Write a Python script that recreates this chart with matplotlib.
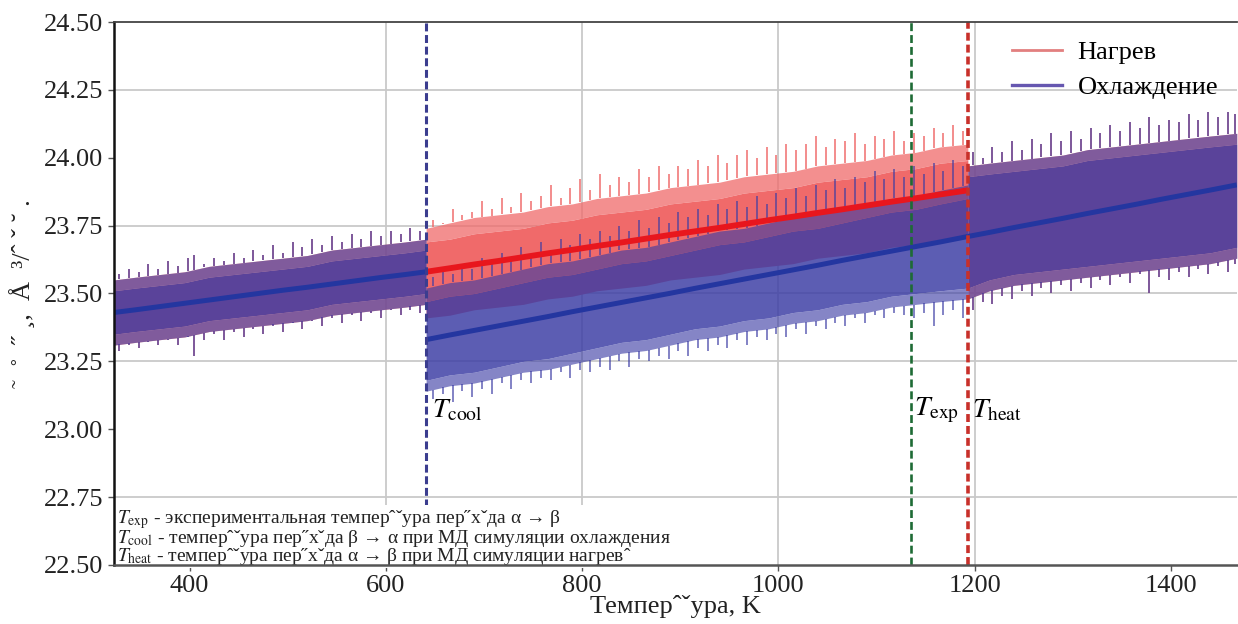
import numpy as np
import matplotlib.pyplot as plt
from matplotlib.lines import Line2D

plt.rcParams['font.family'] = ['Liberation Serif', 'DejaVu Serif']
plt.rcParams['mathtext.fontset'] = 'stix'

# transition temperatures, K
T_COOL, T_EXP, T_HEAT = 641, 1135, 1193

# below T_cool heating and cooling runs coincide
t_low = [323, 345, 370, 395, 420, 445, 470, 495, 520, 545, 570, 595, 620, 641]
mean_low = [23.430, 23.440, 23.452, 23.464, 23.476, 23.488, 23.500, 23.512, 23.523, 23.535, 23.547, 23.559, 23.570, 23.580]
up_low = [23.51, 23.52, 23.53, 23.54, 23.56, 23.57, 23.58, 23.59, 23.60, 23.62, 23.63, 23.64, 23.65, 23.66]
lo_low = [23.35, 23.36, 23.37, 23.38, 23.40, 23.41, 23.42, 23.43, 23.44, 23.46, 23.47, 23.48, 23.49, 23.50]
up_low_out = [23.55, 23.56, 23.57, 23.58, 23.60, 23.61, 23.62, 23.63, 23.64, 23.66, 23.67, 23.68, 23.69, 23.70]
lo_low_out = [23.31, 23.32, 23.33, 23.34, 23.36, 23.37, 23.38, 23.39, 23.40, 23.42, 23.43, 23.44, 23.45, 23.46]
t_spk_low = [328, 338, 348, 358, 368, 378, 388, 398, 405, 415, 425, 435, 445, 455, 465, 475, 485, 495, 505, 515,
             525, 535, 545, 555, 565, 575, 585, 595, 605, 615, 625, 635]
spk_up_low = [23.57, 23.59, 23.58, 23.61, 23.59, 23.62, 23.60, 23.63, 23.64, 23.61, 23.63, 23.62, 23.65, 23.63,
              23.66, 23.64, 23.68, 23.65, 23.69, 23.67, 23.70, 23.68, 23.71, 23.69, 23.72, 23.70, 23.73, 23.71,
              23.73, 23.72, 23.74, 23.73]
spk_lo_low = [23.29, 23.31, 23.30, 23.32, 23.31, 23.33, 23.31, 23.34, 23.27, 23.33, 23.35, 23.33, 23.36, 23.34,
              23.37, 23.35, 23.38, 23.36, 23.39, 23.37, 23.40, 23.38, 23.41, 23.39, 23.42, 23.40, 23.43, 23.41,
              23.44, 23.42, 23.44, 23.43]

# between T_cool and T_heat the runs split
t_mid = [641, 665, 690, 715, 740, 765, 790, 815, 840, 865, 890, 915, 940, 965, 990, 1015, 1040, 1065, 1090, 1115,
         1140, 1165, 1193]
heat_mean = [23.580, 23.593, 23.607, 23.620, 23.634, 23.648, 23.661, 23.675, 23.688, 23.702, 23.716, 23.729, 23.742,
             23.756, 23.770, 23.783, 23.797, 23.810, 23.824, 23.838, 23.851, 23.865, 23.880]
heat_up = [23.69, 23.70, 23.72, 23.73, 23.74, 23.76, 23.77, 23.79, 23.80, 23.81, 23.83, 23.84, 23.85, 23.87, 23.88,
           23.89, 23.91, 23.92, 23.93, 23.95, 23.96, 23.98, 23.99]
heat_lo = [23.41, 23.42, 23.44, 23.45, 23.46, 23.48, 23.49, 23.51, 23.52, 23.53, 23.55, 23.56, 23.57, 23.59, 23.60,
           23.61, 23.63, 23.64, 23.65, 23.67, 23.68, 23.70, 23.71]
heat_up_out = [23.74, 23.76, 23.78, 23.79, 23.80, 23.82, 23.83, 23.85, 23.86, 23.87, 23.89, 23.90, 23.91, 23.93,
               23.94, 23.95, 23.97, 23.98, 23.99, 24.01, 24.02, 24.04, 24.05]

cool_mean = [23.330, 23.347, 23.364, 23.381, 23.398, 23.415, 23.433, 23.450, 23.467, 23.484, 23.501, 23.519, 23.536,
             23.553, 23.570, 23.587, 23.604, 23.622, 23.639, 23.656, 23.673, 23.690, 23.710]
cool_up = [23.47, 23.49, 23.50, 23.52, 23.54, 23.56, 23.57, 23.59, 23.61, 23.62, 23.64, 23.66, 23.68, 23.69, 23.71,
           23.73, 23.74, 23.76, 23.78, 23.80, 23.81, 23.83, 23.85]
cool_lo = [23.18, 23.20, 23.21, 23.23, 23.25, 23.26, 23.28, 23.30, 23.32, 23.33, 23.35, 23.37, 23.38, 23.40, 23.41,
           23.43, 23.44, 23.46, 23.47, 23.49, 23.50, 23.51, 23.52]
cool_up_out = [23.52, 23.54, 23.55, 23.57, 23.59, 23.61, 23.62, 23.64, 23.66, 23.67, 23.69, 23.71, 23.73, 23.74,
               23.76, 23.78, 23.79, 23.81, 23.83, 23.85, 23.86, 23.88, 23.90]
cool_lo_out = [23.14, 23.16, 23.17, 23.19, 23.21, 23.22, 23.24, 23.26, 23.28, 23.29, 23.31, 23.33, 23.34, 23.36,
               23.37, 23.39, 23.40, 23.42, 23.43, 23.45, 23.46, 23.47, 23.48]

t_spk_mid = [648, 658, 668, 678, 688, 698, 708, 718, 728, 738, 748, 758, 768, 778, 788, 798, 808, 818, 828, 838,
             848, 858, 868, 878, 888, 898, 908, 918, 928, 938, 948, 958, 968, 978, 988, 998, 1008, 1018, 1028,
             1038, 1048, 1058, 1068, 1078, 1088, 1098, 1108, 1118, 1128, 1138, 1148, 1158, 1168, 1178, 1188]
spk_heat_up = [23.77, 23.76, 23.81, 23.79, 23.80, 23.84, 23.81, 23.85, 23.82, 23.87, 23.84, 23.86, 23.90, 23.85,
               23.89, 23.92, 23.88, 23.94, 23.90, 23.93, 23.91, 23.96, 23.93, 23.97, 23.94, 23.97, 23.96, 23.99,
               23.97, 24.01, 23.98, 24.01, 24.03, 24.00, 24.04, 24.01, 24.05, 24.03, 24.05, 24.08, 24.04, 24.07,
               24.06, 24.09, 24.05, 24.08, 24.07, 24.10, 24.06, 24.09, 24.08, 24.11, 24.09, 24.12, 24.10]
spk_cool_up = [23.56, 23.58, 23.57, 23.61, 23.59, 23.63, 23.61, 23.65, 23.63, 23.67, 23.64, 23.69, 23.66, 23.70,
               23.68, 23.72, 23.70, 23.73, 23.71, 23.75, 23.73, 23.77, 23.74, 23.78, 23.76, 23.80, 23.78, 23.81,
               23.79, 23.83, 23.81, 23.84, 23.82, 23.86, 23.83, 23.87, 23.85, 23.89, 23.86, 23.90, 23.88, 23.92,
               23.89, 23.93, 23.91, 23.95, 23.92, 23.96, 23.93, 23.97, 23.94, 23.98, 23.95, 23.99, 23.97]
spk_cool_lo = [23.11, 23.13, 23.10, 23.14, 23.12, 23.15, 23.13, 23.17, 23.15, 23.18, 23.17, 23.19, 23.18, 23.21,
               23.19, 23.22, 23.21, 23.23, 23.22, 23.25, 23.23, 23.26, 23.25, 23.27, 23.26, 23.29, 23.27, 23.30,
               23.29, 23.31, 23.30, 23.33, 23.31, 23.34, 23.33, 23.35, 23.34, 23.37, 23.35, 23.38, 23.37, 23.39,
               23.38, 23.41, 23.39, 23.42, 23.41, 23.43, 23.42, 23.41, 23.43, 23.38, 23.42, 23.44, 23.41]

# above T_heat the runs coincide again
t_high = [1193, 1215, 1240, 1265, 1290, 1315, 1340, 1365, 1390, 1415, 1440, 1467]
mean_high = [23.710, 23.725, 23.743, 23.760, 23.777, 23.795, 23.812, 23.829, 23.847, 23.864, 23.881, 23.900]
up_high = [23.93, 23.94, 23.95, 23.96, 23.97, 23.99, 24.00, 24.01, 24.02, 24.03, 24.04, 24.05]
lo_high = [23.52, 23.55, 23.57, 23.58, 23.59, 23.60, 23.61, 23.62, 23.63, 23.64, 23.65, 23.67]
up_high_out = [23.97, 23.98, 23.99, 24.00, 24.01, 24.03, 24.04, 24.05, 24.06, 24.07, 24.08, 24.09]
lo_high_out = [23.48, 23.51, 23.53, 23.54, 23.55, 23.56, 23.57, 23.58, 23.59, 23.60, 23.61, 23.63]
t_spk_high = [1198, 1208, 1218, 1228, 1238, 1248, 1258, 1268, 1278, 1288, 1298, 1308, 1318, 1328, 1338, 1348,
              1358, 1368, 1378, 1388, 1398, 1408, 1418, 1428, 1438, 1448, 1458, 1465]
spk_up_high = [24.02, 24.00, 24.04, 24.02, 24.06, 24.03, 24.07, 24.05, 24.09, 24.06, 24.10, 24.07, 24.11, 24.09,
               24.12, 24.10, 24.13, 24.11, 24.15, 24.12, 24.14, 24.13, 24.16, 24.14, 24.17, 24.15, 24.17, 24.16]
spk_lo_high = [23.44, 23.47, 23.46, 23.49, 23.48, 23.51, 23.49, 23.52, 23.50, 23.53, 23.51, 23.54, 23.52, 23.55,
               23.53, 23.56, 23.54, 23.57, 23.50, 23.56, 23.55, 23.58, 23.56, 23.59, 23.57, 23.60, 23.58, 23.61]

HEAT_BAND, HEAT_LINE = '#f06a6a', '#e8161d'
COOL_BAND, COOL_LINE = '#3b3ca4', '#2436a0'
COOL_ALPHA = 0.83

fig = plt.figure(figsize=(12.38, 6.24), dpi=100)
ax = fig.add_axes([0.0921, 0.0946, 0.9069, 0.8701])


def band(t, lo, up, fringes, spikes, color, alpha, z):
    # solid core, lighter fringe, then single spikes out of the fringe
    ax.fill_between(t, lo, up, color=color, alpha=alpha, lw=0, zorder=z)
    for a, b in fringes:
        ax.fill_between(t, a, b, color=color, alpha=alpha * 0.75, lw=0, zorder=z)
    for st, edge, sv in spikes:
        ax.vlines(st, np.interp(st, t, edge), sv, color=color, alpha=alpha * 0.9, lw=1.2, zorder=z)


for color, alpha, z in [(HEAT_BAND, 1.0, 2), (COOL_BAND, COOL_ALPHA, 3)]:
    band(t_low, lo_low, up_low, [(up_low, up_low_out), (lo_low_out, lo_low)],
         [(t_spk_low, up_low_out, spk_up_low), (t_spk_low, lo_low_out, spk_lo_low)], color, alpha, z)
    band(t_high, lo_high, up_high, [(up_high, up_high_out), (lo_high_out, lo_high)],
         [(t_spk_high, up_high_out, spk_up_high), (t_spk_high, lo_high_out, spk_lo_high)], color, alpha, z)

band(t_mid, heat_lo, heat_up, [(heat_up, heat_up_out)], [(t_spk_mid, heat_up_out, spk_heat_up)], HEAT_BAND, 1.0, 2)
band(t_mid, cool_lo, cool_up, [(cool_up, cool_up_out), (cool_lo_out, cool_lo)],
     [(t_spk_mid, cool_up_out, spk_cool_up), (t_spk_mid, cool_lo_out, spk_cool_lo)], COOL_BAND, COOL_ALPHA, 3)

ax.plot(t_mid, heat_mean, color=HEAT_LINE, lw=4.2, zorder=4, solid_capstyle='butt')
for t, m in [(t_low, mean_low), (t_mid, cool_mean), (t_high, mean_high)]:
    ax.plot(t, m, color=COOL_LINE, lw=3.6, zorder=5, solid_capstyle='butt')

ax.axvline(T_COOL, color='#3b3d8f', lw=2.2, dashes=(2.6, 1.2), zorder=6)
ax.axvline(T_EXP, color='#1e6b35', lw=1.9, dashes=(3.0, 1.5), zorder=6)
ax.axvline(T_HEAT, color='#c8302a', lw=2.6, dashes=(2.2, 1.1), zorder=6)

ax.text(T_COOL + 6, 23.07, r'$T_{\mathrm{cool}}$', fontsize=20, va='center', ha='left', zorder=7)
ax.text(T_EXP + 3, 23.07, r'$T_{\mathrm{exp}}$', fontsize=20, va='center', ha='left', zorder=7)
ax.text(T_HEAT + 4, 23.07, r'$T_{\mathrm{heat}}$', fontsize=20, va='center', ha='left', zorder=7)

# grid drawn by hand: the original only has some of the lines
for v in [24.25, 23.75, 23.50, 23.25, 22.75]:
    ax.axhline(v, color='#c9c9c9', lw=1.3, zorder=0)
for t in [600, 800, 1000, 1200]:
    ax.axvline(t, color='#c9c9c9', lw=1.3, zorder=0)

note = ("$T_{\\mathrm{exp}}$ - экспериментальная темпер\u02c6\u02c7ура пер\u02ddх\u02c7да α → β\n"
        "$T_{\\mathrm{cool}}$ - темпер\u02c6\u02c7ура пер\u02ddх\u02c7да β → α при МД симуляции охлаждения\n"
        "$T_{\\mathrm{heat}}$ - темпер\u02c6\u02c7ура пер\u02ddх\u02c7да α → β при МД симуляции нагрев\u02c6")
ax.text(0.003, -0.003, note, transform=ax.transAxes, fontsize=14, va='bottom', ha='left', linespacing=0.8,
        color='#222222', zorder=8, bbox=dict(fc='white', ec='none', pad=0.8))

ax.set_xlim(323, 1467)
ax.set_ylim(22.5, 24.5)
ax.set_xticks([400, 600, 800, 1000, 1200, 1400])
ax.set_yticks([22.5, 22.75, 23.0, 23.25, 23.5, 23.75, 24.0, 24.25, 24.5])
ax.set_yticklabels(['%.2f' % v for v in ax.get_yticks()])
ax.tick_params(labelsize=19, length=4, width=1, color='#555555', labelcolor='#222222')

ax.spines['right'].set_visible(False)
ax.spines['left'].set_linewidth(1.8)
ax.spines['left'].set_color('#111111')
ax.spines['bottom'].set_linewidth(1.8)
ax.spines['bottom'].set_color('#555555')
ax.spines['top'].set_linewidth(1.3)
ax.spines['top'].set_color('#444444')
for s in ax.spines.values():
    s.set_zorder(10)

ax.set_xlabel('Темпер\u02c6\u02c7ура, K', fontsize=19, color='#222222')
ax.xaxis.set_label_coords(0.5, -0.055)
ax.set_ylabel('\u02dc  \u02da  \u02dd \u00b8,  Å  \u00b3/\u02c6 \u02c7 \u02d8 .', fontsize=19, color='#222222')
ax.yaxis.set_label_coords(-0.0705, 0.50)

handles = [Line2D([], [], color='#e27f7f', lw=2), Line2D([], [], color='#6657b0', lw=2.4)]
leg = ax.legend(handles, ['Нагрев', 'Охлаждение'], loc='upper right', frameon=False, fontsize=19,
                handlelength=1.9, labelspacing=0.45, borderaxespad=0.3, handletextpad=0.6)
leg.set_zorder(9)

fig.savefig('out.png', dpi=100)
